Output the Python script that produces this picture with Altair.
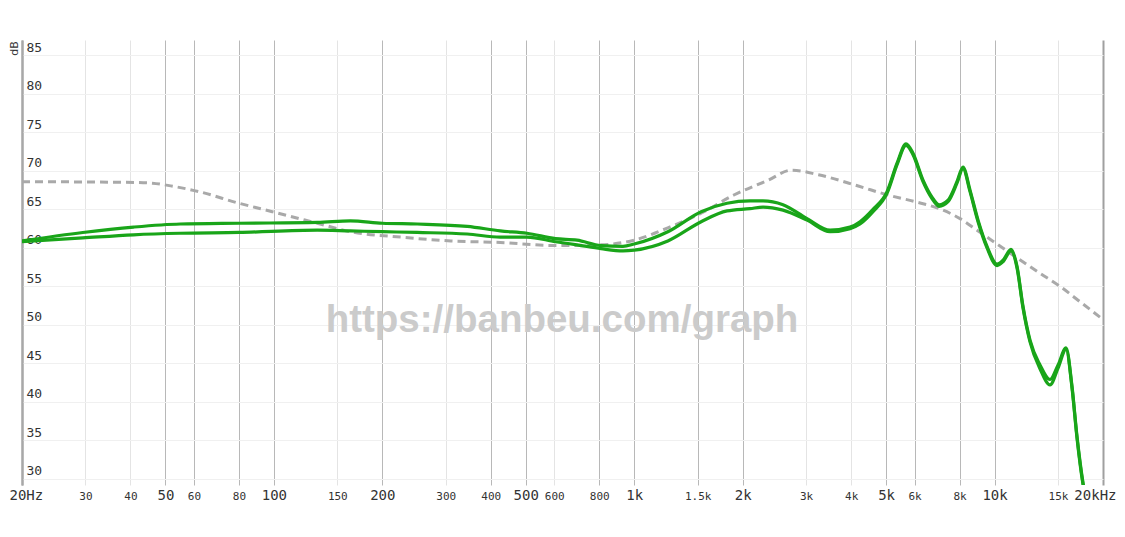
import altair as alt
import pandas as pd

# ---- axis ticks ----
tick_freqs = [20, 30, 40, 50, 60, 80, 100, 150, 200, 300, 400, 500, 600, 800,
              1000, 1500, 2000, 3000, 4000, 5000, 6000, 8000, 10000, 15000, 20000]
tick_labels = ["20Hz", "30", "40", "50", "60", "80", "100", "150", "200", "300", "400",
               "500", "600", "800", "1k", "1.5k", "2k", "3k", "4k", "5k", "6k", "8k",
               "10k", "15k", "20kHz"]
major_ticks = [20, 50, 100, 200, 500, 1000, 2000, 5000, 10000, 20000]
light_ticks = [30, 40, 150, 300, 600, 3000, 4000, 15000]
edge_ticks = [20, 20000]
db_ticks = [30, 35, 40, 45, 50, 55, 60, 65, 70, 75, 80, 85]

# ---- target (dashed grey) ----
target_freq = [20, 41, 46, 52.5, 62, 80, 99, 132, 163, 225, 310, 425, 605, 809, 1000,
               1240, 1534, 1897, 2358, 2731, 3244, 4208, 5032, 6016, 6926, 8023, 8941,
               10160, 11546, 13372, 15196, 17272, 19620]
target_db = [68.6, 68.5, 68.4, 68.0, 67.3, 65.8, 64.7, 63.2, 62.1, 61.4, 60.9, 60.7,
             60.3, 60.4, 61.0, 62.6, 64.5, 66.9, 68.8, 70.1, 69.5, 68.0, 66.9, 66.0,
             65.2, 63.8, 62.3, 60.5, 58.7, 56.7, 55.0, 53.0, 51.0]

# ---- measured channels (green) ----
ch_freq = [20, 29.5, 40.8, 55, 80, 132, 163, 200, 250, 344, 425, 504, 605, 694, 809,
           931, 1000, 1240, 1534, 1810, 2096, 2278, 2588, 3018, 3497, 3973, 4234, 4600,
           5032, 5364, 5680, 5940, 6332, 6706, 7014, 7430, 7866, 8176, 8550, 9000, 9532,
           10160, 10556, 11108, 11546, 11996, 12546, 13372, 14256, 15008, 15794, 16408,
           16940, 17600, 18000]
left_db = [60.9, 62.0, 62.7, 63.1, 63.2, 63.3, 63.5, 63.2, 63.1, 62.8, 62.2, 61.9, 61.2,
           61.0, 60.3, 60.2, 60.5, 62.1, 64.7, 65.8, 66.1, 66.1, 65.6, 63.8, 62.3, 62.7,
           63.4, 65.0, 67.3, 71.0, 73.5, 72.3, 68.8, 66.6, 65.6, 66.2, 68.6, 70.5, 67.5,
           63.6, 60.2, 57.9, 58.4, 59.8, 57.6, 52.4, 48.0, 44.8, 42.9, 44.8, 47.0, 42.0,
           35.5, 29.5, 27.0]
right_db = [60.8, 61.3, 61.7, 61.9, 62.0, 62.3, 62.2, 62.1, 62.0, 61.8, 61.4, 61.4, 60.8,
            60.4, 59.9, 59.6, 59.7, 60.9, 63.4, 64.8, 65.1, 65.3, 64.9, 63.6, 62.1, 62.5,
            63.1, 64.7, 67.1, 70.8, 73.3, 72.1, 68.6, 66.4, 65.4, 66.0, 68.4, 70.3, 67.3,
            63.4, 60.0, 57.7, 58.2, 59.6, 57.4, 52.2, 47.8, 44.3, 42.2, 44.4, 46.8, 41.8,
            35.3, 29.3, 27.0]


def arr(v):
    return "[" + ",".join(str(x) for x in v) + "]"


label_expr = ("[" + ",".join("'%s'" % l for l in tick_labels) + "][indexof("
              + arr(tick_freqs) + ", datum.value)]")

x_axis = alt.Axis(
    values=tick_freqs, labelExpr=label_expr, title=None, ticks=False, tickSize=0,
    domain=False, grid=True,
    gridColor={"condition": [
        {"test": "indexof(%s, datum.value) >= 0" % arr(edge_ticks), "value": "#a0a0a0"},
        {"test": "indexof(%s, datum.value) >= 0" % arr(light_ticks), "value": "#e4e4e4"}],
        "value": "#b8b8b8"},
    gridWidth={"condition": {"test": "indexof(%s, datum.value) >= 0" % arr(edge_ticks),
                             "value": 2}, "value": 1},
    labelFontSize={"condition": {"test": "indexof(%s, datum.value) >= 0" % arr(major_ticks),
                                 "value": 14}, "value": 11},
    labelFont="DejaVu Sans Mono", labelColor="#333333",
    labelBaseline="alphabetic", labelPadding=14,
    labelFlush=True, labelFlushOffset=13, labelOverlap=False, labelBound=False,
)

y_axis = alt.Axis(
    values=db_ticks, title="dB", orient="left", ticks=False, tickSize=0,
    domain=True, domainColor="#a8a8a8", domainWidth=2,
    grid=True, gridColor="#f0f0f0",
    labelAlign="left", labelBaseline="alphabetic", labelPadding=-4, labelOffset=-4,
    labelFont="DejaVu Sans Mono", labelFontSize=13, labelColor="#333333",
    titleFont="DejaVu Sans", titleFontSize=11, titleFontWeight="normal",
    titleColor="#333333", titleX=-5, titleY=8, titleAngle=270,
    titleAlign="center", titleBaseline="alphabetic",
)

x_enc = alt.X("f:Q", scale=alt.Scale(type="log", domain=[20, 20000], nice=False), axis=x_axis)
y_enc = alt.Y("db:Q", scale=alt.Scale(domain=[29.2, 87], nice=False, zero=False), axis=y_axis)

target_df = pd.DataFrame({"f": target_freq, "db": target_db})
left_df = pd.DataFrame({"f": ch_freq, "db": left_db})
right_df = pd.DataFrame({"f": ch_freq, "db": right_db})

watermark = alt.Chart(pd.DataFrame({"t": ["https://banbeu.com/graph"]})).mark_text(
    font="Liberation Sans", fontWeight="bold", fontSize=38.5, color="#cbcbcb",
    align="center", baseline="alphabetic"
).encode(text="t:N", x=alt.value(540), y=alt.value(292))

target = alt.Chart(target_df).mark_line(
    color="#a9a9a9", strokeWidth=3, strokeDash=[8, 5], interpolate="monotone", clip=True
).encode(x=x_enc, y=y_enc)

left = alt.Chart(left_df).mark_line(
    color="#19a519", strokeWidth=3.2, interpolate="monotone", clip=True
).encode(x=x_enc, y=y_enc)

right = alt.Chart(right_df).mark_line(
    color="#19a519", strokeWidth=3.2, interpolate="monotone", clip=True
).encode(x=x_enc, y=y_enc)

chart = alt.layer(watermark, target, left, right).properties(
    width=1081, height=445,
    padding={"left": 14, "top": 32, "right": 14, "bottom": 36},
    autosize=alt.AutoSizeParams(type="none"),
    background="white",
).configure_view(strokeOpacity=0)

chart.save("out.html", embed_options={"renderer": "svg", "actions": False})
